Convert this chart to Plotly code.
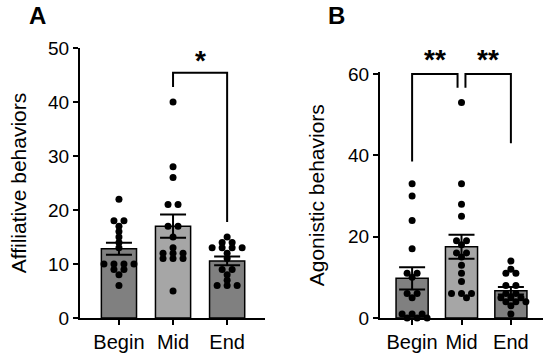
import numpy as np
import plotly.graph_objects as go

categories = ["Begin", "Mid", "End"]

# Panel A: Affiliative behaviors
aff_begin = [22, 18, 18, 17, 16, 15, 14, 13, 10, 10, 10, 10, 9, 9, 8, 6]
aff_mid = [40, 28, 26, 21, 21, 17, 17, 15, 13, 12, 12, 12, 11, 11, 11, 5]
aff_end = [15, 14, 14, 13, 13, 13, 13, 12, 11, 9, 9, 8, 7, 6, 6, 6]

# Panel B: Agonistic behaviors
ago_begin = [33, 30, 24, 17, 11, 11, 10, 6, 6, 5, 1, 1, 1, 0, 0, 0]
ago_mid = [53, 33, 28, 25, 19, 19, 18, 16, 16, 15, 13, 11, 9, 6, 6, 6, 5]
ago_end = [14, 12, 11, 11, 8, 8, 6, 6, 5, 5, 5, 4, 4, 4, 3, 1]

a_ticks = [0, 10, 20, 30, 40, 50]
b_ticks = [0, 20, 40, 60]

# significance brackets: (x_left, x_right, top, left_leg_bottom, right_leg_bottom, label)
a_brackets = [(1, 2, 45.4, 42.8, 17.8, "*")]
b_brackets = [(0, 0.92, 60, 38.5, 56.6, "**"), (1.08, 2, 60, 56.6, 43.0, "**")]

bar_colors = ["#808080", "#a6a6a6", "#808080"]
FONT = "Arial, Liberation Sans, sans-serif"

W, H = 550, 359
A_dom_x = [80 / W, 265 / W]
B_dom_x = [380 / W, 543 / W]
A_dom_y = [1 - 318 / H, 1 - 48 / H]
B_dom_y = [1 - 318 / H, 1 - 72.4 / H]
A_xr = [-0.72, 2.70]
B_xr = [-0.65, 2.65]
A_yr = [0, 50]
B_yr = [0, 60.4]


def swarm(values, center, xr, dom_x, yr, dom_y, spacing_px=10.0, min_px=4.6):
    px_x = (dom_x[1] - dom_x[0]) * W / (xr[1] - xr[0])
    px_y = (dom_y[1] - dom_y[0]) * H / (yr[1] - yr[0])
    vals = sorted(values, reverse=True)
    uniq = []
    for v in vals:
        if v not in uniq:
            uniq.append(v)
    placed = []
    xs, ys = [], []
    for v in uniq:
        k = vals.count(v)
        base = [(i - (k - 1) / 2) * spacing_px for i in range(k)]
        ypx = v * px_y
        cands = [0]
        for j in range(1, 12):
            cands += [j * spacing_px / 2, -j * spacing_px / 2]
        for sh in cands:
            ok = True
            for b in base:
                for (px, py) in placed:
                    if np.hypot(b + sh - px, ypx - py) < min_px:
                        ok = False
                        break
                if not ok:
                    break
            if ok:
                break
        for b in base:
            placed.append((b + sh, ypx))
            xs.append(center + (b + sh) / px_x)
            ys.append(v)
    return xs, ys


def sem(v):
    v = np.array(v, dtype=float)
    return v.std(ddof=1) / np.sqrt(len(v))


fig = go.Figure()


def add_panel(groups, xa, ya, xr, dom_x, yr, dom_y):
    means = [float(np.mean(g)) for g in groups]
    errs = [float(sem(g)) for g in groups]
    fig.add_trace(go.Bar(
        x=[0, 1, 2], y=means, width=0.65,
        marker=dict(color=bar_colors, line=dict(color="black", width=1.5)),
        error_y=dict(type="data", array=errs, visible=True, color="black",
                     thickness=2, width=13),
        xaxis=xa, yaxis=ya, showlegend=False, hoverinfo="skip"))
    for i, g in enumerate(groups):
        xs, ys = swarm(g, i, xr, dom_x, yr, dom_y)
        fig.add_trace(go.Scatter(
            x=xs, y=ys, mode="markers",
            marker=dict(color="black", size=7),
            xaxis=xa, yaxis=ya, showlegend=False, cliponaxis=False,
            hoverinfo="skip"))


def add_brackets(brs, xa, ya, yshift):
    for (x0, x1, top, b0, b1, lab) in brs:
        fig.add_trace(go.Scatter(
            x=[x0, x0, x1, x1], y=[b0, top, top, b1], mode="lines",
            line=dict(color="black", width=2), xaxis=xa, yaxis=ya,
            showlegend=False, hoverinfo="skip"))
        fig.add_annotation(x=(x0 + x1) / 2, y=top, xref=xa, yref=ya,
                           text="<b>" + lab + "</b>", showarrow=False,
                           xanchor="center", yanchor="bottom", yshift=yshift,
                           font=dict(family=FONT, size=28, color="black"))


add_panel([aff_begin, aff_mid, aff_end], "x", "y", A_xr, A_dom_x, A_yr, A_dom_y)
add_panel([ago_begin, ago_mid, ago_end], "x2", "y2", B_xr, B_dom_x, B_yr, B_dom_y)
add_brackets(a_brackets, "x", "y", -5)
add_brackets(b_brackets, "x2", "y2", -3)

axis_common = dict(showgrid=False, zeroline=False, showline=True, linecolor="black",
                   linewidth=2, ticks="outside", ticklen=5, tickwidth=2,
                   tickcolor="black", fixedrange=True, automargin=False)

fig.update_layout(
    width=W, height=H, margin=dict(l=0, r=0, t=0, b=0, autoexpand=False),
    plot_bgcolor="white", paper_bgcolor="white",
    font=dict(family=FONT, color="black"),
    xaxis=dict(domain=A_dom_x, range=A_xr, anchor="y", tickvals=[0, 1, 2],
               ticktext=categories, tickfont=dict(size=20), **axis_common),
    yaxis=dict(domain=A_dom_y, range=A_yr, anchor="x", tickvals=a_ticks,
               tickfont=dict(size=19),
               title=dict(text="Affiliative behaviors", font=dict(size=21), standoff=16),
               **axis_common),
    xaxis2=dict(domain=B_dom_x, range=B_xr, anchor="y2", tickvals=[0, 1, 2],
                ticktext=categories, tickfont=dict(size=20), **axis_common),
    yaxis2=dict(domain=B_dom_y, range=B_yr, anchor="x2", tickvals=b_ticks,
                tickfont=dict(size=19),
                title=dict(text="Agonistic behaviors", font=dict(size=21), standoff=18),
                **axis_common),
    bargap=0,
)

fig.add_annotation(x=37 / W, y=1 - 16 / H, xref="paper", yref="paper", text="<b>A</b>",
                   xanchor="center", yanchor="middle",
                   showarrow=False, font=dict(family=FONT, size=24, color="black"))
fig.add_annotation(x=336 / W, y=1 - 16 / H, xref="paper", yref="paper", text="<b>B</b>",
                   xanchor="center", yanchor="middle",
                   showarrow=False, font=dict(family=FONT, size=24, color="black"))

fig.write_html("out.html", config={"displayModeBar": False, "staticPlot": True},
               post_script="document.body.style.margin='0';document.body.style.overflow='hidden';")
